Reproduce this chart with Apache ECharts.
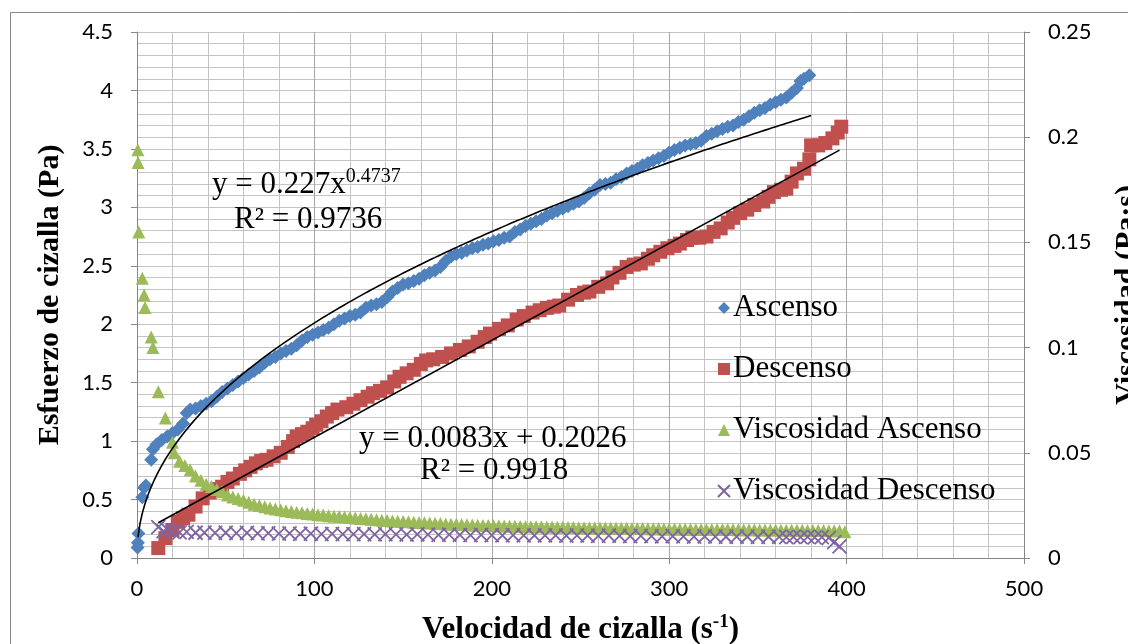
<!DOCTYPE html>
<html>
<head>
<meta charset="utf-8">
<script src="https://cdn.jsdelivr.net/npm/echarts@6/dist/echarts.min.js"></script>
<style>
  html, body { margin: 0; padding: 0; background: #fff; }
  #chart { width: 1128px; height: 644px; }
</style>
</head>
<body>
<div id="chart"></div>
<script>
// Ascenso: esfuerzo (Pa) vs velocidad (s-1)
const ascensoX = [0.3, 0.5, 0.8, 3, 4, 5, 8, 9, 11, 14, 17, 20, 23, 26, 28, 30, 33, 36, 39, 42, 45, 48, 51, 54, 57, 60, 63, 66, 69, 72, 75, 78, 81, 84, 87, 90, 93, 96, 99, 102, 105, 108, 111, 114, 117, 120, 123, 126, 129, 132, 135, 138, 141, 144, 147, 150, 153, 156, 159, 162, 165, 168, 171, 174, 177, 180, 183, 186, 189, 192, 195, 198, 201, 204, 207, 210, 213, 216, 219, 222, 225, 228, 231, 234, 237, 240, 243, 246, 249, 252, 255, 258, 261, 264, 267, 270, 273, 276, 279, 282, 285, 288, 291, 294, 297, 300, 303, 306, 309, 312, 315, 318, 321, 324, 327, 330, 333, 336, 339, 342, 345, 348, 351, 354, 357, 360, 363, 366, 369, 372, 374, 376, 379];
const ascensoY = [0.09, 0.13, 0.21, 0.52, 0.6, 0.62, 0.84, 0.93, 0.97, 1.01, 1.04, 1.07, 1.1, 1.15, 1.24, 1.27, 1.28, 1.3, 1.32, 1.34, 1.38, 1.42, 1.45, 1.48, 1.51, 1.54, 1.57, 1.6, 1.63, 1.67, 1.7, 1.72, 1.75, 1.77, 1.79, 1.82, 1.86, 1.89, 1.91, 1.93, 1.95, 1.97, 2.0, 2.03, 2.05, 2.07, 2.08, 2.1, 2.14, 2.16, 2.17, 2.19, 2.23, 2.28, 2.31, 2.34, 2.35, 2.37, 2.39, 2.42, 2.44, 2.46, 2.49, 2.54, 2.58, 2.6, 2.61, 2.63, 2.65, 2.66, 2.68, 2.69, 2.71, 2.72, 2.74, 2.75, 2.79, 2.81, 2.84, 2.86, 2.88, 2.9, 2.93, 2.95, 2.97, 2.99, 3.01, 3.03, 3.05, 3.08, 3.12, 3.15, 3.19, 3.2, 3.21, 3.24, 3.26, 3.29, 3.31, 3.33, 3.36, 3.38, 3.4, 3.42, 3.44, 3.47, 3.49, 3.51, 3.53, 3.54, 3.55, 3.57, 3.61, 3.63, 3.65, 3.67, 3.69, 3.7, 3.73, 3.75, 3.78, 3.81, 3.83, 3.85, 3.88, 3.9, 3.92, 3.94, 3.98, 4.02, 4.08, 4.1, 4.13];

// Descenso
const descensoX = [12, 16, 20, 23, 26, 29, 33, 37, 41, 45, 48, 51, 54, 58, 61, 64, 67, 70, 73, 77, 81, 85, 88, 90, 93, 96, 99, 101, 104, 107, 110, 113, 118, 122, 126, 130, 133, 137, 141, 145, 148, 152, 156, 160, 163, 167, 172, 177, 182, 187, 192, 196, 199, 204, 209, 214, 218, 223, 227, 231, 235, 238, 243, 248, 252, 255, 260, 265, 268, 272, 276, 280, 284, 288, 291, 295, 299, 303, 306, 310, 313, 317, 321, 325, 329, 333, 336, 340, 344, 348, 353, 356, 359, 363, 366, 369, 372, 376, 379, 380, 384, 388, 392, 395, 397];
const descensoY = [0.085, 0.17, 0.24, 0.31, 0.34, 0.37, 0.44, 0.51, 0.56, 0.59, 0.61, 0.65, 0.68, 0.72, 0.75, 0.78, 0.81, 0.83, 0.84, 0.87, 0.9, 0.95, 1.0, 1.04, 1.06, 1.08, 1.11, 1.14, 1.17, 1.21, 1.24, 1.27, 1.29, 1.32, 1.35, 1.38, 1.41, 1.43, 1.46, 1.51, 1.55, 1.58, 1.61, 1.66, 1.69, 1.7, 1.72, 1.75, 1.78, 1.81, 1.85, 1.89, 1.92, 1.96, 1.99, 2.04, 2.07, 2.1, 2.12, 2.14, 2.15, 2.16, 2.21, 2.25, 2.27, 2.28, 2.32, 2.35, 2.4, 2.44, 2.49, 2.51, 2.52, 2.56, 2.59, 2.62, 2.65, 2.67, 2.69, 2.72, 2.74, 2.74, 2.75, 2.79, 2.82, 2.87, 2.91, 2.95, 2.98, 3.02, 3.05, 3.09, 3.13, 3.15, 3.16, 3.22, 3.29, 3.33, 3.41, 3.53, 3.53, 3.55, 3.59, 3.64, 3.69];

// Viscosidad Ascenso (Pa·s)
const viscAscX = [0.5, 0.6, 1, 3, 4, 4.5, 8, 9, 12, 16, 20, 21, 24, 27, 30, 33, 36, 39, 42, 45, 48, 51, 54, 57, 60, 63, 66, 69, 72, 75, 78, 81, 84, 87, 90, 93, 96, 99, 102, 105, 108, 111, 114, 117, 120, 123, 126, 129, 132, 135, 138, 141, 144, 147, 150, 153, 156, 159, 162, 165, 168, 171, 174, 177, 180, 183, 186, 189, 192, 195, 198, 201, 204, 207, 210, 213, 216, 219, 222, 225, 228, 231, 234, 237, 240, 243, 246, 249, 252, 255, 258, 261, 264, 267, 270, 273, 276, 279, 282, 285, 288, 291, 294, 297, 300, 303, 306, 309, 312, 315, 318, 321, 324, 327, 330, 333, 336, 339, 342, 345, 348, 351, 354, 357, 360, 363, 366, 369, 372, 375, 378, 381, 384, 387, 390, 393, 396, 399];
const viscAscY = [0.194, 0.188, 0.155, 0.133, 0.125, 0.119, 0.105, 0.1, 0.079, 0.0665, 0.055, 0.05, 0.046, 0.044, 0.042, 0.039, 0.037, 0.035, 0.034, 0.0325, 0.0315, 0.03, 0.029, 0.0283, 0.0275, 0.0265, 0.0255, 0.025, 0.0243, 0.0238, 0.0233, 0.0229, 0.0225, 0.0221, 0.0218, 0.0215, 0.0212, 0.0209, 0.0206, 0.0204, 0.0201, 0.0199, 0.0197, 0.0195, 0.0192, 0.019, 0.0188, 0.0186, 0.0184, 0.0182, 0.018, 0.0178, 0.0176, 0.0175, 0.0173, 0.0172, 0.017, 0.0169, 0.0168, 0.0166, 0.0165, 0.0164, 0.0162, 0.0161, 0.016, 0.0159, 0.0158, 0.0157, 0.0156, 0.0155, 0.0154, 0.0153, 0.0153, 0.0152, 0.0151, 0.0151, 0.015, 0.0149, 0.0149, 0.0148, 0.0148, 0.0147, 0.0147, 0.0146, 0.0146, 0.0145, 0.0145, 0.0144, 0.0144, 0.0143, 0.0143, 0.0143, 0.0142, 0.0142, 0.0141, 0.0141, 0.0141, 0.014, 0.014, 0.014, 0.0139, 0.0139, 0.0139, 0.0138, 0.0138, 0.0138, 0.0137, 0.0137, 0.0137, 0.0136, 0.0136, 0.0136, 0.0136, 0.0135, 0.0135, 0.0135, 0.0135, 0.0134, 0.0134, 0.0134, 0.0134, 0.0133, 0.0133, 0.0133, 0.0133, 0.0132, 0.0132, 0.0132, 0.0132, 0.0132, 0.0131, 0.0131, 0.0131, 0.0131, 0.013, 0.013, 0.013, 0.0125];

// Viscosidad Descenso (Pa·s)
const viscDescX = [12, 15, 17, 20, 24, 28, 33, 38, 44, 50, 56, 62, 68, 74, 80, 86, 92, 98, 104, 110, 116, 122, 128, 134, 140, 146, 152, 158, 164, 170, 176, 182, 188, 194, 200, 206, 212, 218, 224, 230, 236, 242, 248, 254, 260, 266, 272, 278, 284, 290, 296, 302, 308, 314, 320, 326, 332, 338, 344, 350, 356, 362, 366, 370, 374, 378, 382, 386, 390, 393, 396];
const viscDescY = [0.0147, 0.0128, 0.0136, 0.0125, 0.0122, 0.0124, 0.012, 0.0121, 0.0119, 0.012, 0.0118, 0.0119, 0.0117, 0.0118, 0.0116, 0.0117, 0.0115, 0.0116, 0.0114, 0.0115, 0.0114, 0.0113, 0.0114, 0.0112, 0.0113, 0.0112, 0.0111, 0.0112, 0.0111, 0.011, 0.0111, 0.011, 0.0109, 0.011, 0.0109, 0.0108, 0.0109, 0.0108, 0.0107, 0.0108, 0.0107, 0.0106, 0.0107, 0.0106, 0.0105, 0.0106, 0.0105, 0.0104, 0.0105, 0.0104, 0.0103, 0.0104, 0.0103, 0.0102, 0.0103, 0.0102, 0.0101, 0.0102, 0.0101, 0.01, 0.0101, 0.01, 0.0099, 0.01, 0.0099, 0.01, 0.0098, 0.0099, 0.0096, 0.0075, 0.0055];

// trend lines as printed on the chart
const powerFit = { a: 0.227, b: 0.4737, from: 0.6, to: 380 };
const linearFit = { m: 0.0083, c: 0.2026, from: 12, to: 396 };

const xTicks = [0, 100, 200, 300, 400, 500];

function pairs(xs, ys) {
  return xs.map((x, i) => [x, ys[i]]);
}

function powerLine() {
  const pts = [];
  for (let x = powerFit.from; x <= powerFit.to; x += (x < 20 ? 0.5 : 4)) {
    pts.push([x, powerFit.a * Math.pow(x, powerFit.b)]);
  }
  pts.push([powerFit.to, powerFit.a * Math.pow(powerFit.to, powerFit.b)]);
  return pts;
}

function linearLine() {
  return [linearFit.from, linearFit.to].map((x) => [x, linearFit.m * x + linearFit.c]);
}

const serif = "Liberation Serif";
const sans = "Lato";
const gridGray = "#c4c4c4";
const axisGray = "#868686";

const chart = echarts.init(document.getElementById("chart"), null, { renderer: "canvas" });

const option = {
  animation: false,
  backgroundColor: "#fff",
  grid: { left: 137, right: 104, top: 32, bottom: 86, outerBoundsMode: "none", containLabel: false },
  xAxis: {
    type: "value",
    min: xTicks[0],
    max: xTicks[xTicks.length - 1],
    interval: 100,
    name: "{b|Velocidad de cizalla (s}{sup|-1}{b|)}",
    nameLocation: "middle",
    nameGap: 55,
    nameTextStyle: {
      rich: {
        b: { fontFamily: serif, fontWeight: "bold", fontSize: 31, color: "#000", verticalAlign: "bottom" },
        sup: { fontFamily: serif, fontWeight: "bold", fontSize: 19, color: "#000", verticalAlign: "bottom", padding: [0, 0, 13, 0] }
      }
    },
    axisLine: { onZero: false, lineStyle: { color: axisGray, width: 1 } },
    axisTick: { show: true, length: 6, lineStyle: { color: axisGray } },
    axisLabel: { margin: 20, fontFamily: sans, fontSize: 22, color: "#000" },
    splitLine: { show: true, lineStyle: { color: "#a6a6a6", width: 1 } },
    minorTick: { show: false, splitNumber: 5 },
    minorSplitLine: { show: true, lineStyle: { color: gridGray, width: 1 } }
  },
  yAxis: [
    {
      type: "value",
      min: 0,
      max: 4.5,
      interval: 0.5,
      name: "Esfuerzo de cizalla (Pa)",
      nameLocation: "middle",
      nameGap: 72,
      nameTextStyle: { fontFamily: serif, fontWeight: "bold", fontSize: 30, color: "#000" },
      axisLine: { show: true, lineStyle: { color: axisGray, width: 1 } },
      axisTick: { show: true, length: 6, lineStyle: { color: axisGray } },
      axisLabel: { margin: 24, fontFamily: sans, fontSize: 22, color: "#000" },
      splitLine: { show: true, lineStyle: { color: gridGray, width: 1 } },
      minorTick: { show: false, splitNumber: 5 },
      minorSplitLine: { show: true, lineStyle: { color: gridGray, width: 1 } }
    },
    {
      type: "value",
      min: 0,
      max: 0.25,
      interval: 0.05,
      position: "right",
      name: "Viscosidad (Pa·s)",
      nameLocation: "middle",
      nameGap: 88,
      nameRotate: 90,
      nameTextStyle: { fontFamily: serif, fontWeight: "bold", fontSize: 30, color: "#000" },
      axisLine: { show: true, lineStyle: { color: axisGray, width: 1 } },
      axisTick: { show: true, length: 6, lineStyle: { color: axisGray } },
      axisLabel: { margin: 24, fontFamily: sans, fontSize: 22, color: "#000" },
      splitLine: { show: false }
    }
  ],
  legend: {
    orient: "vertical",
    left: 712,
    top: 287,
    itemGap: 29,
    itemWidth: 12,
    itemHeight: 12,
    data: ["Ascenso", "Descenso", "Viscosidad Ascenso", "Viscosidad Descenso"],
    textStyle: { fontFamily: serif, fontSize: 31, color: "#000", lineHeight: 32, padding: [0, 0, 0, -2] }
  },
  series: [
    {
      name: "Ascenso",
      type: "scatter",
      symbol: "diamond",
      symbolSize: 14,
      itemStyle: { color: "#4f81bd", opacity: 1 },
      data: pairs(ascensoX, ascensoY)
    },
    {
      name: "Descenso",
      type: "scatter",
      symbol: "rect",
      symbolSize: 14,
      itemStyle: { color: "#c0504d", opacity: 1 },
      data: pairs(descensoX, descensoY)
    },
    {
      name: "Viscosidad Ascenso",
      type: "scatter",
      symbol: "triangle",
      symbolSize: 13,
      yAxisIndex: 1,
      itemStyle: { color: "#9bbb59", opacity: 1 },
      data: pairs(viscAscX, viscAscY)
    },
    {
      name: "Viscosidad Descenso",
      type: "scatter",
      symbol: "path://M0,0L10,10M10,0L0,10",
      symbolSize: 14,
      yAxisIndex: 1,
      itemStyle: { color: "rgba(0,0,0,0)", borderColor: "#8064a2", borderWidth: 1.8, opacity: 1 },
      data: pairs(viscDescX, viscDescY)
    },
    {
      name: "tendencia potencial",
      type: "line",
      showSymbol: false,
      smooth: true,
      silent: true,
      lineStyle: { color: "#000", width: 1.6 },
      data: powerLine(),
      z: 5
    },
    {
      name: "tendencia lineal",
      type: "line",
      showSymbol: false,
      silent: true,
      lineStyle: { color: "#000", width: 1.6 },
      data: linearLine(),
      z: 5
    }
  ],
  graphic: [
    {
      type: "rect",
      silent: true,
      shape: { x: 10.5, y: 12.5, width: 1300, height: 800 },
      style: { fill: "none", stroke: axisGray, lineWidth: 1 },
      z: -10
    },
    {
      type: "text",
      left: 212,
      top: 167,
      style: {
        text: "{n|y = 0.227x}{s|0.4737}",
        rich: {
          n: { fontFamily: serif, fontSize: 31, fill: "#000", verticalAlign: "bottom" },
          s: { fontFamily: serif, fontSize: 20, fill: "#000", verticalAlign: "bottom", padding: [0, 0, 13, 0] }
        }
      },
      z: 10
    },
    {
      type: "text",
      left: 234,
      top: 204,
      style: { text: "R² = 0.9736", fontFamily: serif, fontSize: 31, fill: "#000" },
      z: 10
    },
    {
      type: "text",
      left: 359,
      top: 423,
      style: { text: "y = 0.0083x + 0.2026", fontFamily: serif, fontSize: 31, fill: "#000" },
      z: 10
    },
    {
      type: "text",
      left: 420,
      top: 455,
      style: { text: "R² = 0.9918", fontFamily: serif, fontSize: 31, fill: "#000" },
      z: 10
    }
  ]
};

chart.setOption(option);
</script>
</body>
</html>
